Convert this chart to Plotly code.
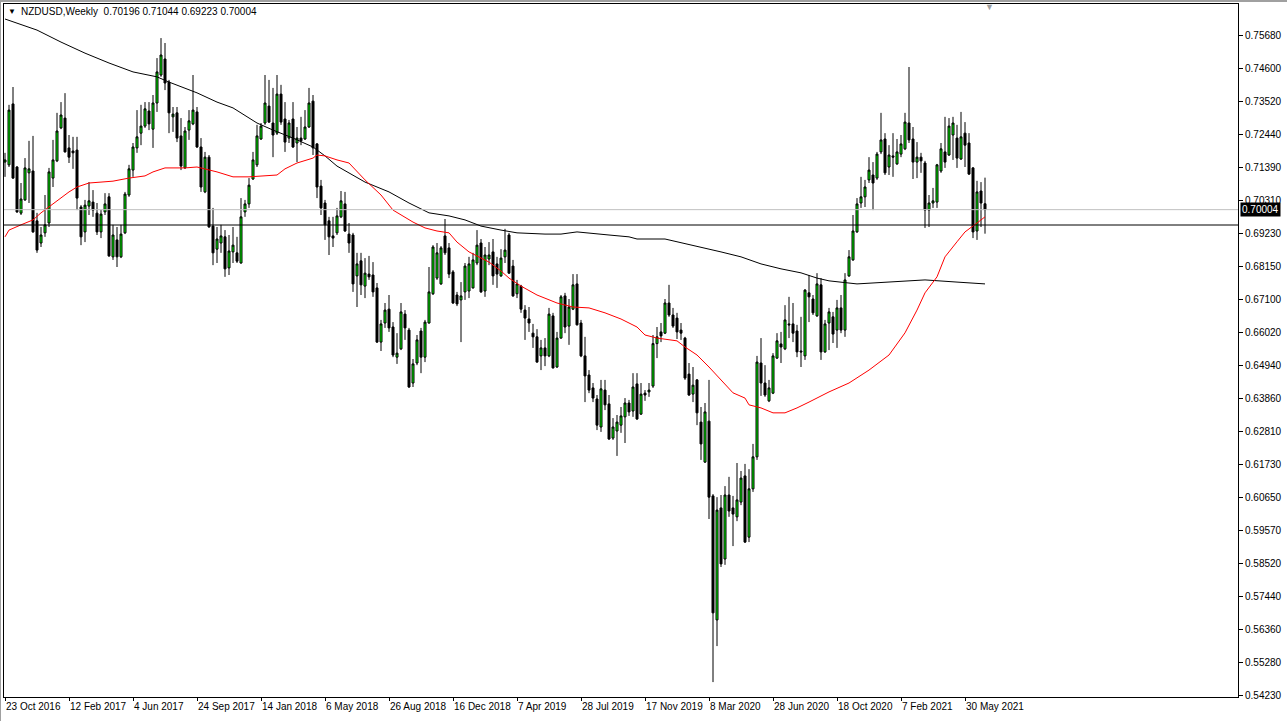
import pandas as pd
import plotly.graph_objects as go

symbol = "NZDUSD,Weekly"
first_week = "2016-10-23"

opens = [
    .7155, .7146, .7344, .7139, .6989, .7032, .7120, .7126, .6964, .6892,
    .6925, .6957, .7103, .7159, .7266, .7298, .7201, .7191, .7194, .7009,
    .6928, .7012, .7025, .6989, .6928, .6993, .7042, .6847, .6902, .6847,
    .6925, .7048, .7129, .7201, .7249, .7272, .7321, .7262, .7347, .7438,
    .7490, .7415, .7302, .7315, .7240, .7136, .7259, .7279, .7318, .7204,
    .7058, .7171, .6947, .6872, .6892, .6912, .6811, .6863, .6860, .6827,
    .6993, .7019, .7100, .7146, .7230, .7282, .7337, .7282, .7249, .7376,
    .7295, .7233, .7295, .7217, .7233, .7230, .7269, .7353, .7214, .7077,
    .7022, .6964, .6915, .6925, .6977, .7019, .6921, .6918, .6785, .6834,
    .6752, .6791, .6788, .6746, .6570, .6632, .6677, .6619, .6521, .6548,
    .6661, .6609, .6437, .6502, .6606, .6521, .6632, .6727, .6778, .6759,
    .6915, .6876, .6798, .6723, .6707, .6733, .6736, .6746, .6827, .6892,
    .6736, .6840, .6863, .6824, .6785, .6847, .6918, .6817, .6727, .6752,
    .6674, .6645, .6599, .6587, .6525, .6551, .6525, .6655, .6489, .6583,
    .6720, .6622, .6677, .6759, .6632, .6525, .6463, .6421, .6385, .6294,
    .6414, .6369, .6258, .6281, .6300, .6327, .6372, .6346, .6434, .6336,
    .6404, .6408, .6427, .6565, .6603, .6599, .6697, .6658, .6648, .6609,
    .6583, .6466, .6401, .6447, .6310, .6180, .6313, .6070, .5667, .6031,
    .5865, .6073, .6031, .6002, .6050, .6135, .5936, .6093, .6197, .6502,
    .6437, .6379, .6404, .6518, .6564, .6548, .6629, .6629, .6606, .6541,
    .6525, .6730, .6710, .6655, .6756, .6538, .6632, .6652, .6609, .6681,
    .6609, .6785, .6837, .6928, .7022, .7042, .7097, .7113, .7103, .7188,
    .7230, .7139, .7175, .7149, .7181, .7198, .7282, .7230, .7155, .7171,
    .7152, .6999, .7022, .7025, .7126, .7188, .7178, .7243, .7233, .7165,
    .7249, .7217, .7136, .6931, .7061, .70196,
]
highs = [
    .7185, .7341, .7399, .7142, .7087, .7168, .7224, .7240, .6990, .6944,
    .7048, .7136, .7227, .7315, .7350, .7379, .7243, .7237, .7237, .7015,
    .7032, .7090, .7064, .7022, .6999, .7054, .7054, .6951, .6944, .6951,
    .7058, .7146, .7217, .7324, .7341, .7350, .7350, .7373, .7493, .7558,
    .7542, .7422, .7334, .7334, .7298, .7269, .7324, .7438, .7334, .7233,
    .7188, .7178, .7006, .6944, .6951, .6934, .6918, .6944, .6912, .7038,
    .7032, .7103, .7188, .7276, .7282, .7438, .7422, .7396, .7438, .7406,
    .7350, .7292, .7350, .7269, .7302, .7324, .7396, .7373, .7217, .7097,
    .7032, .6977, .6977, .7006, .7061, .7058, .6957, .6925, .6860, .6860,
    .6843, .6850, .6830, .6762, .6642, .6697, .6723, .6635, .6599, .6697,
    .6674, .6616, .6515, .6593, .6616, .6642, .6814, .6885, .6892, .6882,
    .6970, .6892, .6804, .6733, .6765, .6827, .6847, .6860, .6934, .6905,
    .6879, .6895, .6905, .6847, .6872, .6938, .6925, .6837, .6772, .6756,
    .6690, .6684, .6629, .6612, .6577, .6583, .6681, .6665, .6603, .6723,
    .6730, .6710, .6791, .6791, .6642, .6587, .6479, .6437, .6398, .6447,
    .6447, .6398, .6323, .6333, .6359, .6388, .6382, .6469, .6469, .6437,
    .6414, .6437, .6593, .6619, .6632, .6710, .6756, .6681, .6665, .6632,
    .6587, .6502, .6489, .6450, .6359, .6372, .6447, .6076, .6066, .6073,
    .6102, .6132, .6070, .6177, .6151, .6174, .6157, .6239, .6525, .6583,
    .6495, .6447, .6534, .6599, .6603, .6690, .6717, .6697, .6626, .6652,
    .6742, .6788, .6723, .6794, .6778, .6642, .6681, .6668, .6707, .6723,
    .6794, .6869, .6983, .7038, .7107, .7097, .7171, .7155, .7188, .7315,
    .7249, .7210, .7249, .7230, .7243, .7315, .7464, .7269, .7220, .7185,
    .7159, .7048, .7071, .7149, .7217, .7302, .7298, .7302, .7276, .7318,
    .7285, .7249, .7139, .7094, .7090, .71044,
]
lows = [
    .7107, .7139, .7100, .6990, .6983, .7029, .7022, .6925, .6860, .6879,
    .6912, .6944, .7074, .7155, .7262, .7186, .7152, .7133, .6999, .6885,
    .6895, .6983, .6977, .6918, .6908, .6983, .6847, .6837, .6814, .6843,
    .6921, .7042, .7107, .7185, .7210, .7266, .7259, .7201, .7318, .7432,
    .7389, .7249, .7253, .7220, .7129, .7133, .7227, .7275, .7201, .7058,
    .7054, .6942, .6820, .6827, .6860, .6782, .6788, .6827, .6827, .6825,
    .6977, .7006, .7097, .7139, .7227, .7276, .7282, .7171, .7243, .7276,
    .7188, .7217, .7201, .7155, .7210, .7227, .7266, .7178, .7038, .6983,
    .6902, .6853, .6879, .6918, .6973, .6928, .6860, .6733, .6684, .6723,
    .6713, .6772, .6717, .6567, .6541, .6616, .6603, .6521, .6499, .6544,
    .6577, .6421, .6424, .6495, .6469, .6505, .6630, .6723, .6772, .6756,
    .6853, .6778, .6694, .6687, .6570, .6707, .6713, .6744, .6820, .6730,
    .6717, .6820, .6756, .6746, .6782, .6827, .6792, .6717, .6713, .6665,
    .6577, .6603, .6551, .6503, .6479, .6492, .6521, .6484, .6486, .6581,
    .6599, .6561, .6674, .6624, .6521, .6375, .6404, .6375, .6284, .6278,
    .6349, .6252, .6252, .6200, .6275, .6242, .6330, .6327, .6317, .6333,
    .6379, .6392, .6421, .6518, .6570, .6596, .6652, .6616, .6580, .6577,
    .6447, .6395, .6375, .6300, .6187, .6177, .5995, .5465, .5582, .5839,
    .5846, .6002, .5907, .5988, .6040, .5917, .5920, .6083, .6187, .6395,
    .6392, .6375, .6401, .6515, .6502, .6544, .6583, .6570, .6521, .6489,
    .6512, .6635, .6658, .6652, .6512, .6535, .6544, .6567, .6551, .6599,
    .6587, .6782, .6834, .6925, .7006, .7009, .7087, .6999, .7097, .7181,
    .7113, .7113, .7107, .7146, .7171, .7194, .7217, .7100, .7103, .7120,
    .6941, .6944, .7006, .7006, .7120, .7136, .7175, .7162, .7136, .7162,
    .7139, .7113, .6908, .6902, .6944, .69223,
]
closes = [
    .7162, .7324, .7103, .6993, .7035, .7136, .7133, .6928, .6869, .6918,
    .6951, .7123, .7162, .7256, .7308, .7188, .7171, .7185, .7038, .6912,
    .7015, .7029, .6999, .6928, .6986, .7019, .6850, .6918, .6847, .6921,
    .7051, .7133, .7204, .7237, .7272, .7328, .7279, .7347, .7448, .7503,
    .7412, .7315, .7311, .7233, .7142, .7256, .7289, .7324, .7204, .7074,
    .7171, .6944, .6860, .6905, .6915, .6808, .6866, .6885, .6833, .6977,
    .7019, .7080, .7162, .7240, .7272, .7347, .7285, .7243, .7376, .7285,
    .7220, .7282, .7204, .7233, .7224, .7269, .7347, .7201, .7074, .7006,
    .6951, .6912, .6908, .6980, .7029, .6931, .6892, .6759, .6824, .6756,
    .6794, .6782, .6733, .6570, .6629, .6674, .6616, .6528, .6534, .6668,
    .6616, .6424, .6499, .6577, .6521, .6635, .6733, .6879, .6860, .6876,
    .6860, .6791, .6697, .6694, .6720, .6817, .6824, .6837, .6885, .6733,
    .6853, .6853, .6785, .6791, .6843, .6869, .6794, .6720, .6759, .6677,
    .6648, .6632, .6587, .6505, .6551, .6525, .6661, .6486, .6583, .6717,
    .6619, .6684, .6756, .6626, .6525, .6460, .6414, .6388, .6300, .6418,
    .6366, .6255, .6294, .6310, .6330, .6372, .6343, .6424, .6320, .6401,
    .6398, .6414, .6565, .6587, .6590, .6697, .6658, .6622, .6603, .6599,
    .6453, .6398, .6430, .6340, .6239, .6343, .6066, .5690, .6024, .5849,
    .6073, .6021, .6011, .6057, .6128, .5920, .6093, .6197, .6505, .6437,
    .6398, .6421, .6525, .6574, .6554, .6642, .6626, .6599, .6538, .6538,
    .6739, .6717, .6665, .6759, .6538, .6629, .6668, .6596, .6681, .6609,
    .6772, .6847, .6931, .7019, .7042, .7074, .7129, .7087, .7181, .7227,
    .7120, .7178, .7171, .7188, .7214, .7285, .7227, .7155, .7171, .7159,
    .6999, .7022, .7029, .7146, .7198, .7155, .7272, .7282, .7168, .7237,
    .7210, .7116, .6928, .7058, .7022, .70004,
]

# moving averages (week index -> value)
red_ma_week = [0, 1, 4, 7, 9, 11, 14, 16, 18, 21, 24, 27, 31, 35, 37, 40, 45, 48, 53, 57,
               61, 65, 68, 70, 73, 77, 78, 80, 83, 86, 90, 94, 97, 102, 105, 108, 111, 113,
               116, 121, 124, 126, 129, 133, 138, 142, 146, 150, 154, 158, 160, 163, 165,
               168, 170, 173, 176, 179, 182, 185, 186, 189, 192, 195, 198, 201, 204, 206,
               211, 216, 221, 225, 228, 230, 233, 235, 238, 240, 243, 245]
red_ma_val = [.6912, .6934, .6951, .6967, .6990, .7009, .7038, .7058, .7074, .7087, .7090,
              .7093, .7103, .7110, .7123, .7136, .7136, .7139, .7123, .7107, .7107, .7110,
              .7113, .7133, .7152, .7168, .7178, .7175, .7162, .7152, .7097, .7048, .6999,
              .6960, .6941, .6931, .6925, .6895, .6863, .6830, .6801, .6778, .6752, .6723,
              .6697, .6684, .6681, .6665, .6645, .6619, .6593, .6583, .6580, .6574, .6554,
              .6528, .6489, .6447, .6405, .6388, .6366, .6356, .6340, .6340, .6356, .6375,
              .6395, .6408, .6437, .6479, .6528, .6600, .6674, .6730, .6782, .6847, .6896,
              .6928, .6957, .6977]
black_ma_week = [0, 8, 14, 20, 26, 32, 38, 41, 48, 53, 57, 63, 67, 72, 77, 80, 83, 90, 96,
                 101, 106, 111, 115, 119, 124, 128, 135, 139, 143, 146, 151, 156, 158, 165,
                 174, 179, 184, 189, 194, 199, 203, 206, 213, 222, 230, 238, 245]
black_ma_val = [.7620, .7584, .7545, .7509, .7477, .7448, .7432, .7415, .7380, .7350, .7331,
                .7282, .7259, .7233, .7204, .7175, .7142, .7090, .7058, .7022, .6990, .6980,
                .6967, .6947, .6934, .6925, .6921, .6921, .6928, .6925, .6918, .6912, .6905,
                .6905, .6879, .6863, .6847, .6824, .6808, .6795, .6778, .6769, .6759, .6765,
                .6772, .6765, .6759]

level_line = 0.69505
bid_price = closes[-1]

y_tick_vals = [0.75680, 0.74600, 0.73520, 0.72440, 0.71390, 0.70310, 0.69230, 0.68150,
               0.67100, 0.66020, 0.64940, 0.63860, 0.62810, 0.61730, 0.60650, 0.59570,
               0.58520, 0.57440, 0.56360, 0.55280, 0.54230]
x_tick_labels = ["23 Oct 2016", "12 Feb 2017", "4 Jun 2017", "24 Sep 2017", "14 Jan 2018",
                 "6 May 2018", "26 Aug 2018", "16 Dec 2018", "7 Apr 2019", "28 Jul 2019",
                 "17 Nov 2019", "8 Mar 2020", "28 Jun 2020", "18 Oct 2020", "7 Feb 2021",
                 "30 May 2021"]

assert len(opens) == len(highs) == len(lows) == len(closes)
assert len(red_ma_week) == len(red_ma_val) and len(black_ma_week) == len(black_ma_val)

dates = pd.date_range(first_week, periods=len(opens), freq="7D")
x_tick_vals = [dates[0] + pd.Timedelta(weeks=16 * k) for k in range(len(x_tick_labels))]
red_x = [dates[0] + pd.Timedelta(weeks=w) for w in red_ma_week]
black_x = [dates[0] + pd.Timedelta(weeks=w) for w in black_ma_week]

FONT = "Liberation Sans, Arial, sans-serif"

fig = go.Figure()
fig.add_trace(go.Candlestick(
    x=dates, open=opens, high=highs, low=lows, close=closes,
    increasing=dict(line=dict(color="black", width=1), fillcolor="#00FF00"),
    decreasing=dict(line=dict(color="black", width=1), fillcolor="black"),
    whiskerwidth=0, hoverinfo="skip", showlegend=False,
))
fig.add_trace(go.Scatter(x=black_x, y=black_ma_val, mode="lines",
                         line=dict(color="black", width=1), hoverinfo="skip", showlegend=False))
fig.add_trace(go.Scatter(x=red_x, y=red_ma_val, mode="lines",
                         line=dict(color="#FF0000", width=1), hoverinfo="skip", showlegend=False))

fig.add_hline(y=bid_price, line=dict(color="#C0C0C0", width=1))
fig.add_hline(y=level_line, line=dict(color="black", width=1))

W, H = 1287, 721
ml, mr, mt, mb = 4, 49, 4, 24
pw, ph = W - ml - mr, H - mt - mb

# window frame (grey) lines
fig.add_shape(type="line", xref="paper", yref="paper",
              x0=-ml / pw, x1=(W - ml) / pw, y0=1 + (mt - 1) / ph, y1=1 + (mt - 1) / ph,
              line=dict(color="#A0A0A0", width=2))
fig.add_shape(type="line", xref="paper", yref="paper",
              x0=-(ml - 0.5) / pw, x1=-(ml - 0.5) / pw, y0=-mb / ph, y1=1 + mt / ph,
              line=dict(color="#A0A0A0", width=1))

title_text = "NZDUSD,Weekly\u00a0\u00a0{:.5f} {:.5f} {:.5f} {:.5f}".format(
    opens[-1], highs[-1], lows[-1], closes[-1])
fig.add_annotation(xref="paper", yref="paper", x=(11.5 - ml) / pw, y=1 - (12 - mt) / ph,
                   text="\u25BC", showarrow=False, font=dict(family=FONT, size=8, color="black"),
                   xanchor="center", yanchor="middle")
fig.add_annotation(xref="paper", yref="paper", x=(19 - ml) / pw, y=1 - (12 - mt) / ph,
                   text=title_text, showarrow=False,
                   font=dict(family=FONT, size=10, color="black"),
                   xanchor="left", yanchor="middle")
fig.add_annotation(xref="paper", yref="paper", x=(990 - ml) / pw, y=1 - (6.5 - mt) / ph,
                   text="\u25BC", showarrow=False, font=dict(family=FONT, size=9, color="#A0A0A0"),
                   xanchor="center", yanchor="middle")
fig.add_annotation(xref="paper", yref="y", x=1, y=bid_price, xanchor="left", yanchor="middle",
                   xshift=2, text="{:.5f}".format(bid_price), showarrow=False,
                   bgcolor="black", borderpad=1,
                   font=dict(family=FONT, size=10, color="white"))

# 4 px per week; half-pixel aligned candle centres
x0 = dates[0] - pd.Timedelta(days=0.25 * 7)
x1 = dates[0] + pd.Timedelta(days=308.25 * 7)

fig.update_layout(
    template="none",
    width=W, height=H,
    margin=dict(l=ml, r=mr, t=mt, b=mb, pad=0, autoexpand=False),
    paper_bgcolor="white", plot_bgcolor="white",
    boxgap=0.5, boxgroupgap=0,
    font=dict(family=FONT, size=10, color="black"),
    xaxis=dict(
        type="date", range=[x0, x1], rangeslider=dict(visible=False),
        automargin=False, showgrid=False, zeroline=False,
        showline=True, mirror=True, linecolor="black", linewidth=1,
        tickmode="array", tickvals=x_tick_vals, ticktext=x_tick_labels,
        tickangle=0, ticks="outside", ticklen=3, tickcolor="black",
        ticklabelposition="outside right",
        tickfont=dict(family=FONT, size=10, color="black"),
    ),
    yaxis=dict(
        side="right", range=[0.54165, 0.766875],
        automargin=False, showgrid=False, zeroline=False,
        showline=True, mirror=True, linecolor="black", linewidth=1,
        tickmode="array", tickvals=y_tick_vals, tickformat=".5f",
        ticks="outside", ticklen=4, tickcolor="black",
        tickfont=dict(family=FONT, size=10, color="black"),
    ),
)

fig.write_html(
    "out.html",
    config={"displayModeBar": False},
    post_script="document.body.style.margin='0';document.body.style.overflow='hidden';",
)
